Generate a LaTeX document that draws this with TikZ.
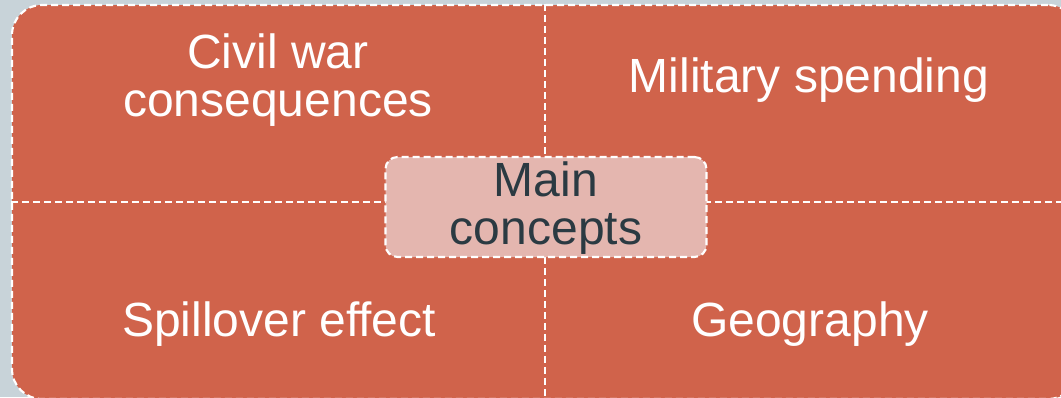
\documentclass[tikz,border=0pt]{standalone}
\usepackage{fontspec}
\setmainfont{Liberation Sans}
\definecolor{backgr}{HTML}{C8D3D9}
\definecolor{brick}{HTML}{D0634B}
\definecolor{blush}{HTML}{E4B6AF}
\definecolor{slate}{HTML}{2B3A42}
\begin{document}
\begin{tikzpicture}[x={(0.75pt,0)}, y={(0,-0.75pt)},
    dashline/.style={white, line width=1.6pt, dash pattern=on 5.25pt off 3pt},
    label/.style={white, align=center, font=\fontsize{36}{35.5}\selectfont}]
            \useasboundingbox (0,0) rectangle (1061,397);
            \fill[backgr] (0,0) rectangle (1061,397);
            \clip (0,0) rectangle (1061,397);

            \node[draw, dashline, fill=brick, rounded corners=22.5pt, minimum width=799.5pt, minimum height=295.5pt] (frame) at (545,202) {};
            \draw[dashline] (frame.north) -- (frame.south);
            \draw[dashline] (frame.west) -- (frame.east);

            \node[draw, dashline, fill=blush, rounded corners=9pt, minimum width=240.75pt, minimum height=75pt] (hub) at (546,207) {};
            \node[label, text=slate] (main) at (546,208) {Main\\concepts};

            \node[label] (civil) at (278,80) {Civil war\\consequences};
            \node[label] (military) at (809,80) {Military spending};
            \node[label] (spill) at (279,324) {Spillover effect};
            \node[label] (geo) at (810,324) {Geography};
        \end{tikzpicture}
\end{document}
